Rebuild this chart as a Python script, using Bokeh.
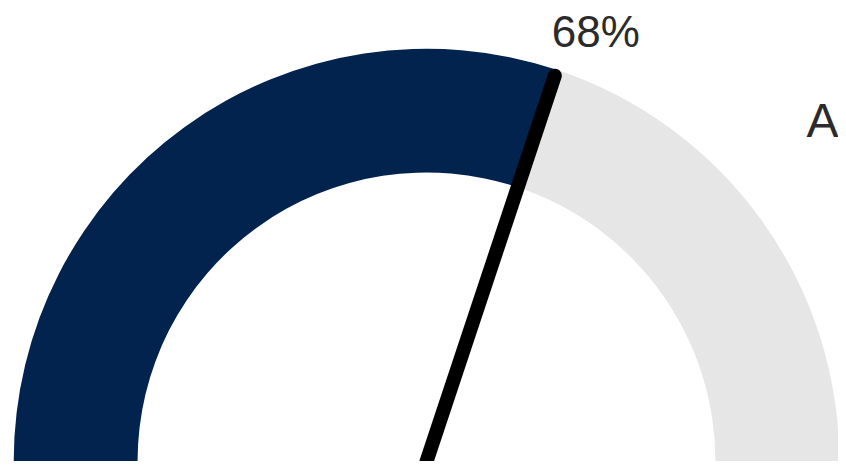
import numpy as np
from bokeh.plotting import figure
from bokeh.models import Range1d
from bokeh.core.properties import value
from bokeh.embed import file_html
from bokeh.resources import INLINE

# ---- data ----
gauge_value = [68]
gauge_max = [100]
label_text = ["68%"]
side_text = ["A"]
segment_colors = ["#03234F", "#E6E6E6"]   # filled, remaining
inner_r = [0.70]
outer_r = [1.0]
needle_len = [0.58]

W, H = 838, 461
x0, x1 = -1.032, 0.998
y0, y1 = 0.0, 0.5852

p = figure(width=W, height=H, x_range=Range1d(x0, x1), y_range=Range1d(y0, y1),
           output_backend="svg", toolbar_location=None, min_border=0)
p.axis.visible = False
p.grid.visible = False
p.outline_line_color = None
p.background_fill_color = "white"
p.border_fill_color = "white"

sx = W / (x1 - x0)
sy = H / (y1 - y0)
k = sy / sx

frac = gauge_value[0] / gauge_max[0]
theta = np.pi * (1 - frac)
ang = float(np.arctan2(k * np.sin(theta), np.cos(theta)))

# filled part
p.annular_wedge(x=[0], y=[0], inner_radius=inner_r[0], outer_radius=outer_r[0],
                start_angle=ang, end_angle=np.pi, direction="anticlock",
                fill_color=segment_colors[0], line_color=None)
# remaining part
p.annular_wedge(x=[0], y=[0], inner_radius=inner_r[0], outer_radius=outer_r[0],
                start_angle=0, end_angle=ang, direction="anticlock",
                fill_color=segment_colors[1], line_color=None)

# needle
nx = needle_len[0] * np.cos(theta)
ny = needle_len[0] * np.sin(theta)
p.line(x=[0, nx], y=[0, ny], line_width=14, line_color="black", line_cap="round")

# value label
p.text(x=[nx], y=[ny], text=label_text, x_offset=-3, y_offset=-44,
       text_align="left", text_baseline="alphabetic",
       text_font=value("Liberation Sans"), text_font_size=value("44px"),
       text_color="#2b2b2b")

# side label
p.text(x=[0.9205], y=[0.433], text=side_text,
       text_align="left", text_baseline="alphabetic",
       text_font=value("Liberation Sans"), text_font_size=value("48px"),
       text_color="#2b2b2b")

open("out.html", "w").write(file_html(p, INLINE))
